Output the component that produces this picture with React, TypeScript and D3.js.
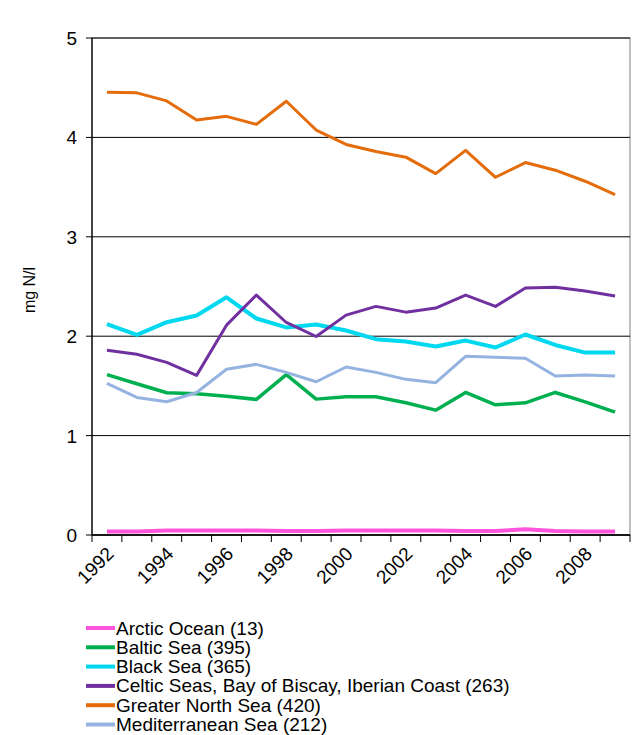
import React from "react";
import * as d3 from "d3";

const years = [1992,1993,1994,1995,1996,1997,1998,1999,2000,2001,2002,2003,2004,2005,2006,2007,2008,2009];
const yTicks = [0,1,2,3,4,5];
const arctic = [0.035,0.035,0.045,0.045,0.045,0.045,0.04,0.04,0.045,0.045,0.045,0.045,0.04,0.04,0.057,0.04,0.035,0.035];
const baltic = [1.613,1.522,1.431,1.421,1.397,1.364,1.613,1.367,1.391,1.391,1.33,1.256,1.434,1.31,1.33,1.434,1.34,1.236];
const black = [2.121,2.013,2.141,2.209,2.391,2.178,2.088,2.118,2.057,1.97,1.946,1.896,1.956,1.886,2.017,1.912,1.835,1.835];
const celtic = [1.859,1.818,1.737,1.606,2.111,2.414,2.138,1.997,2.212,2.3,2.242,2.283,2.414,2.3,2.485,2.492,2.455,2.404];
const northSea = [4.455,4.448,4.367,4.175,4.212,4.131,4.364,4.074,3.929,3.859,3.801,3.636,3.869,3.599,3.747,3.67,3.559,3.424];
const med = [1.525,1.384,1.34,1.434,1.667,1.717,1.636,1.542,1.69,1.636,1.566,1.532,1.798,1.788,1.778,1.599,1.609,1.599];

const seriesNames = ["Arctic Ocean (13)","Baltic Sea (395)","Black Sea (365)","Celtic Seas, Bay of Biscay, Iberian Coast (263)","Greater North Sea (420)","Mediterranean Sea (212)"];
const seriesData = [arctic, baltic, black, celtic, northSea, med];
const seriesColors = ["#ff55dd","#00b050","#00d8f0","#7030a0","#e46c0a","#95b3e0"];
const seriesWidths = [4,3.5,4,3,3,3];

export default function App() {
  const W = 641, H = 735;
  const left = 92, right = 630, top = 38, bottom = 535;
  const x = d3.scaleBand<number>().domain(years).range([left, right]);
  const y = d3.scaleLinear().domain([0,5]).range([bottom, top]);
  const font = "Arial, 'Liberation Sans', sans-serif";
  const line = (vals: number[]) =>
    d3.line<number>().x((_, i) => x(years[i])! + x.bandwidth() / 2).y((v) => y(v))(vals) || "";
  const bounds = years.map((yr) => x(yr)!).concat([right]);
  return (
    <svg width={W} height={H} style={{ position: "absolute", left: 0, top: 0, background: "#fff" }}>
      <rect x={left} y={top} width={right - left} height={bottom - top} fill="none" stroke="#808080" strokeWidth={1} />
      {yTicks.map((t) => (
        <g key={t}>
          <line x1={left} x2={right} y1={y(t)} y2={y(t)} stroke="#000" strokeWidth={1} />
          <line x1={left - 6} x2={left} y1={y(t)} y2={y(t)} stroke="#000" strokeWidth={1} />
          <text x={left - 15} y={y(t) + 7} textAnchor="end" fontFamily={font} fontSize={19}>{t}</text>
        </g>
      ))}
      <line x1={left} x2={left} y1={top} y2={bottom} stroke="#000" strokeWidth={1.3} />
      <line x1={left} x2={right} y1={bottom} y2={bottom} stroke="#000" strokeWidth={1.3} />
      {bounds.map((b, i) => (
        <line key={i} x1={b} x2={b} y1={bottom} y2={bottom + 7} stroke="#000" strokeWidth={1} />
      ))}
      {years.filter((_, i) => i % 2 === 0).map((yr) => {
        const cx = x(yr)! + x.bandwidth() / 2;
        return (
          <text key={yr} transform={`translate(${cx + 8},${bottom + 20}) rotate(-45)`} textAnchor="end" fontFamily={font} fontSize={19}>{yr}</text>
        );
      })}
      <text transform={`translate(35,290) rotate(-90)`} textAnchor="middle" fontFamily={font} fontSize={16}>mg N/l</text>
      {seriesData.map((vals, i) => (
        <path key={i} d={line(vals)} fill="none" stroke={seriesColors[i]} strokeWidth={seriesWidths[i]} strokeLinejoin="round" />
      ))}
      {seriesNames.map((n, i) => {
        const ly = 628 + i * 19.3;
        return (
          <g key={n}>
            <line x1={86} x2={115} y1={ly} y2={ly} stroke={seriesColors[i]} strokeWidth={4} />
            <text x={116} y={ly + 6.5} fontFamily={font} fontSize={19}>{n}</text>
          </g>
        );
      })}
    </svg>
  );
}
